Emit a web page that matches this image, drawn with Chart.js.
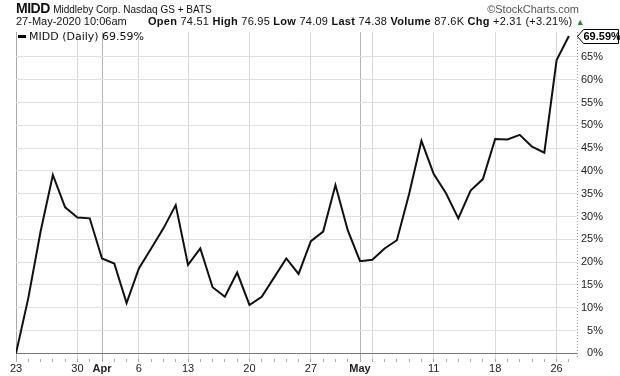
<!DOCTYPE html>
<html>
<head>
<meta charset="utf-8">
<script src="https://cdn.jsdelivr.net/npm/chart.js@4"></script>
<style>
  body { margin:0; background:#fff; }
  #wrap { position:relative; width:620px; height:376px; background:#fff; overflow:hidden; }
  #c { position:absolute; left:0; top:0; }
  .t { position:absolute; font-family:'Liberation Sans', Arial, sans-serif; color:#111; white-space:nowrap; }
  b { font-weight:bold; }
</style>
</head>
<body>
<div id="wrap">
  <canvas id="c" width="620" height="376"></canvas>
  <div class="t" style="left:16px;top:0px;font-size:14px;font-weight:bold;letter-spacing:-0.5px">MIDD <span style="font-weight:normal;font-size:10px;letter-spacing:0">Middleby Corp. Nasdaq GS + BATS</span></div>
  <div class="t" style="right:41px;top:3px;font-size:11px;color:#555">©StockCharts.com</div>
  <div class="t" style="left:16px;top:15px;font-size:11px">27-May-2020 10:06am</div>
  <div class="t" style="left:148px;top:15px;font-size:11px;letter-spacing:0.25px"><b>Open</b> 74.51 <b>High</b> 76.95 <b>Low</b> 74.09 <b>Last</b> 74.38 <b>Volume</b> 87.6K <b>Chg</b> +2.31 (+3.21%) <span style="color:#2a8a2a;font-size:9px">▲</span></div>
  <div class="t" id="legend" style="left:18px;top:30px;font-size:11px;font-family:'DejaVu Sans',sans-serif"></div>
</div>
<script>
const dates = [
  '2020-03-23','2020-03-24','2020-03-25','2020-03-26','2020-03-27',
  '2020-03-30','2020-03-31','2020-04-01','2020-04-02','2020-04-03',
  '2020-04-06','2020-04-07','2020-04-08','2020-04-09',
  '2020-04-13','2020-04-14','2020-04-15','2020-04-16','2020-04-17',
  '2020-04-20','2020-04-21','2020-04-22','2020-04-23','2020-04-24',
  '2020-04-27','2020-04-28','2020-04-29','2020-04-30','2020-05-01',
  '2020-05-04','2020-05-05','2020-05-06','2020-05-07','2020-05-08',
  '2020-05-11','2020-05-12','2020-05-13','2020-05-14','2020-05-15',
  '2020-05-18','2020-05-19','2020-05-20','2020-05-21','2020-05-22',
  '2020-05-26','2020-05-27'
];
const values = [
  0, 12.1, 26.7, 39.1, 32.0,
  29.8, 29.6, 20.8, 19.7, 11.0,
  18.6, 23.0, 27.4, 32.5,
  19.4, 23.0, 14.5, 12.4, 17.7,
  10.6, 12.4, 16.6, 20.8, 17.4,
  24.6, 26.7, 36.9, 27.0, 20.2,
  20.5, 23.0, 24.8, 35.0, 46.6,
  39.3, 35.1, 29.6, 35.7, 38.2,
  47.0, 46.9, 47.9, 45.3, 44.0,
  64.3, 69.59
];
const yTicks = [0,5,10,15,20,25,30,35,40,45,50,55,60,65];
const monthNames = ['Jan','Feb','Mar','Apr','May','Jun','Jul','Aug','Sep','Oct','Nov','Dec'];
const seriesName = 'MIDD (Daily)';

const parsed = dates.map(d => { const [y,m,dd] = d.split('-').map(Number); return {m:m-1, d:dd, wd:new Date(Date.UTC(y,m-1,dd)).getUTCDay()}; });
const kind = parsed.map((p,i) => {
  if (i === 0) return 'week';
  if (p.m !== parsed[i-1].m) return 'month';
  if (p.wd < parsed[i-1].wd) return 'week';
  return 'minor';
});
const labelFor = parsed.map((p,i) => {
  if (kind[i] === 'month') return monthNames[p.m];
  if (kind[i] === 'week') {
    for (let k = Math.max(0,i-2); k < i; k++) if (kind[k] === 'month') return '';
    return String(p.d);
  }
  return '';
});

const last = values[values.length-1];
document.getElementById('legend').innerHTML =
  '<span style="display:inline-block;width:8px;height:3px;background:#000;vertical-align:middle;margin-right:3px;position:relative;top:-1px"></span>' +
  seriesName + ' ' + last.toFixed(2) + '%';

const extras = {
  id: 'extras',
  afterDraw(chart) {
    const ys = chart.scales.y, ctx = chart.ctx, a = chart.chartArea;
    ctx.save();
    ctx.strokeStyle = '#999';
    ctx.lineWidth = 1;
    ctx.setLineDash([1,2]);
    ctx.beginPath();
    ctx.moveTo(Math.round(a.right) + 0.5, a.top);
    ctx.lineTo(Math.round(a.right) + 0.5, a.bottom);
    ctx.stroke();
    ctx.setLineDash([]);
    const y = Math.round(ys.getPixelForValue(last)) + 0.5;
    const x0 = Math.round(a.right) + 0.5;
    ctx.beginPath();
    ctx.moveTo(x0, y);
    ctx.lineTo(x0 + 6, y - 7);
    ctx.lineTo(618.5, y - 7);
    ctx.lineTo(618.5, y + 7);
    ctx.lineTo(x0 + 6, y + 7);
    ctx.closePath();
    ctx.fillStyle = '#fff';
    ctx.fill();
    ctx.strokeStyle = '#000';
    ctx.stroke();
    ctx.fillStyle = '#000';
    ctx.font = 'bold 11px "Liberation Sans", Arial, sans-serif';
    ctx.textBaseline = 'middle';
    ctx.textAlign = 'left';
    ctx.fillText(last.toFixed(2) + '%', x0 + 6, y + 0.5);
    ctx.restore();
  }
};

new Chart(document.getElementById('c'), {
  type: 'line',
  data: {
    datasets: [{
      data: values.map((v,i) => ({x:i, y:v})),
      borderColor: '#111',
      borderWidth: 2,
      pointRadius: 0,
      tension: 0,
      fill: false
    }]
  },
  options: {
    responsive: false,
    animation: false,
    events: [],
    layout: { padding: { left: 16, top: 32, right: 17, bottom: 0 } },
    plugins: { legend: { display: false }, tooltip: { enabled: false } },
    scales: {
      x: {
        type: 'linear',
        min: 0,
        max: 45.66,
        afterBuildTicks: s => { s.ticks = dates.map((d,i) => ({value:i})); },
        afterFit: s => { s.height = 17; },
        ticks: {
          autoSkip: false,
          maxRotation: 0,
          padding: 0,
          color: '#222',
          font: c => ({ family: '"Liberation Sans", Arial, sans-serif', size: 11, weight: (c.tick && kind[c.tick.value] === 'month') ? 'bold' : 'normal' }),
          callback: v => labelFor[v] || ''
        },
        grid: {
          color: c => {
            const k = c.tick ? kind[c.tick.value] : 'minor';
            if (k === 'month') return '#b4b4b4';
            if (k === 'week') return (c.tick.value === 0 ? '#a8a8a8' : '#dadada');
            return 'rgba(0,0,0,0)';
          },
          tickColor: '#aaa',
          tickLength: 3,
          drawTicks: true
        },
        border: { display: false }
      },
      y: {
        position: 'right',
        min: -1.25,
        max: 70.46,
        afterBuildTicks: s => { s.ticks = yTicks.map(v => ({value:v})); },
        afterFit: s => { s.width = 26; },
        ticks: {
          padding: 4,
          crossAlign: 'far',
          color: '#222',
          font: { family: '"Liberation Sans", Arial, sans-serif', size: 11 },
          callback: v => v + '%'
        },
        grid: {
          color: c => (c.tick && c.tick.value === 0) ? '#777' : '#e0e0e0',
          drawTicks: false
        },
        border: { display: false }
      }
    }
  },
  plugins: [extras]
});
</script>
</body>
</html>
